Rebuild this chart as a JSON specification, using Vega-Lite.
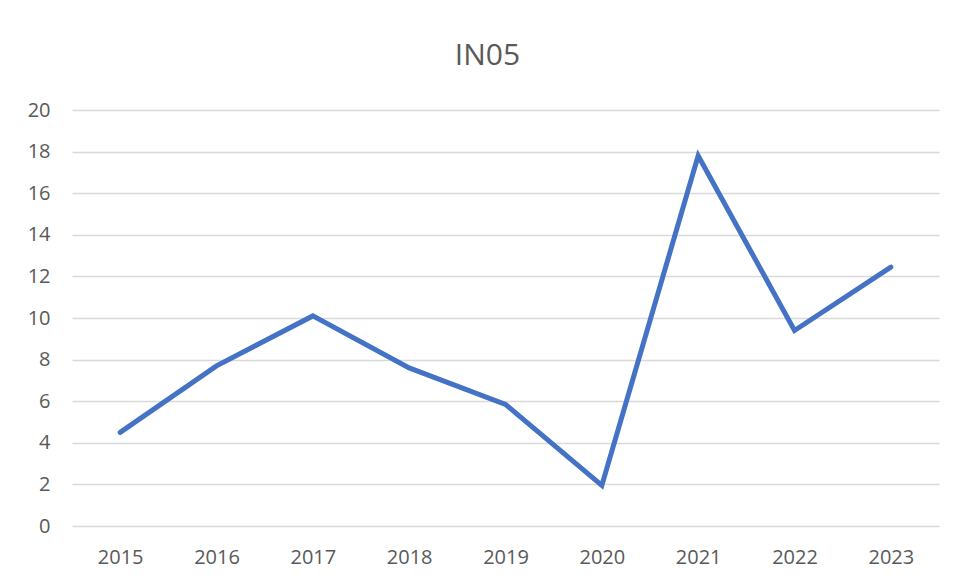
{
  "$schema": "https://vega.github.io/schema/vega-lite/v6.json",
  "autosize": "none",
  "width": 867,
  "height": 416,
  "padding": {"left": 72, "top": 110, "right": 18, "bottom": 55},
  "background": "white",
  "title": {
    "text": "IN05",
    "anchor": "middle",
    "frame": "group",
    "dx": -18,
    "font": "Open Sans",
    "fontSize": 30,
    "fontWeight": "normal",
    "color": "#595959",
    "baseline": "alphabetic",
    "offset": 5
  },
  "data": {
    "values": [
      {"year": "2015", "value": 4.5},
      {"year": "2016", "value": 7.7},
      {"year": "2017", "value": 10.1},
      {"year": "2018", "value": 7.6},
      {"year": "2019", "value": 5.85},
      {"year": "2020", "value": 1.95},
      {"year": "2021", "value": 17.8},
      {"year": "2022", "value": 9.4},
      {"year": "2023", "value": 12.45}
    ]
  },
  "mark": {"type": "line", "color": "#4472C4", "strokeWidth": 5, "strokeCap": "round", "strokeJoin": "miter"},
  "encoding": {
    "x": {
      "field": "year",
      "type": "ordinal",
      "scale": {"type": "point", "padding": 0.5},
      "axis": {"title": null, "labelAngle": 0, "domain": false, "ticks": false, "labelPadding": 21, "grid": false}
    },
    "y": {
      "field": "value",
      "type": "quantitative",
      "scale": {"domain": [0, 20], "nice": false},
      "axis": {"title": null, "values": [0, 2, 4, 6, 8, 10, 12, 14, 16, 18, 20], "domain": false, "ticks": false, "labelPadding": 22, "grid": true, "gridColor": "#d9d9d9", "gridWidth": 1.5}
    }
  },
  "config": {
    "view": {"stroke": null},
    "axis": {"labelFont": "Open Sans", "labelFontSize": 20, "labelColor": "#595959"}
  }
}
